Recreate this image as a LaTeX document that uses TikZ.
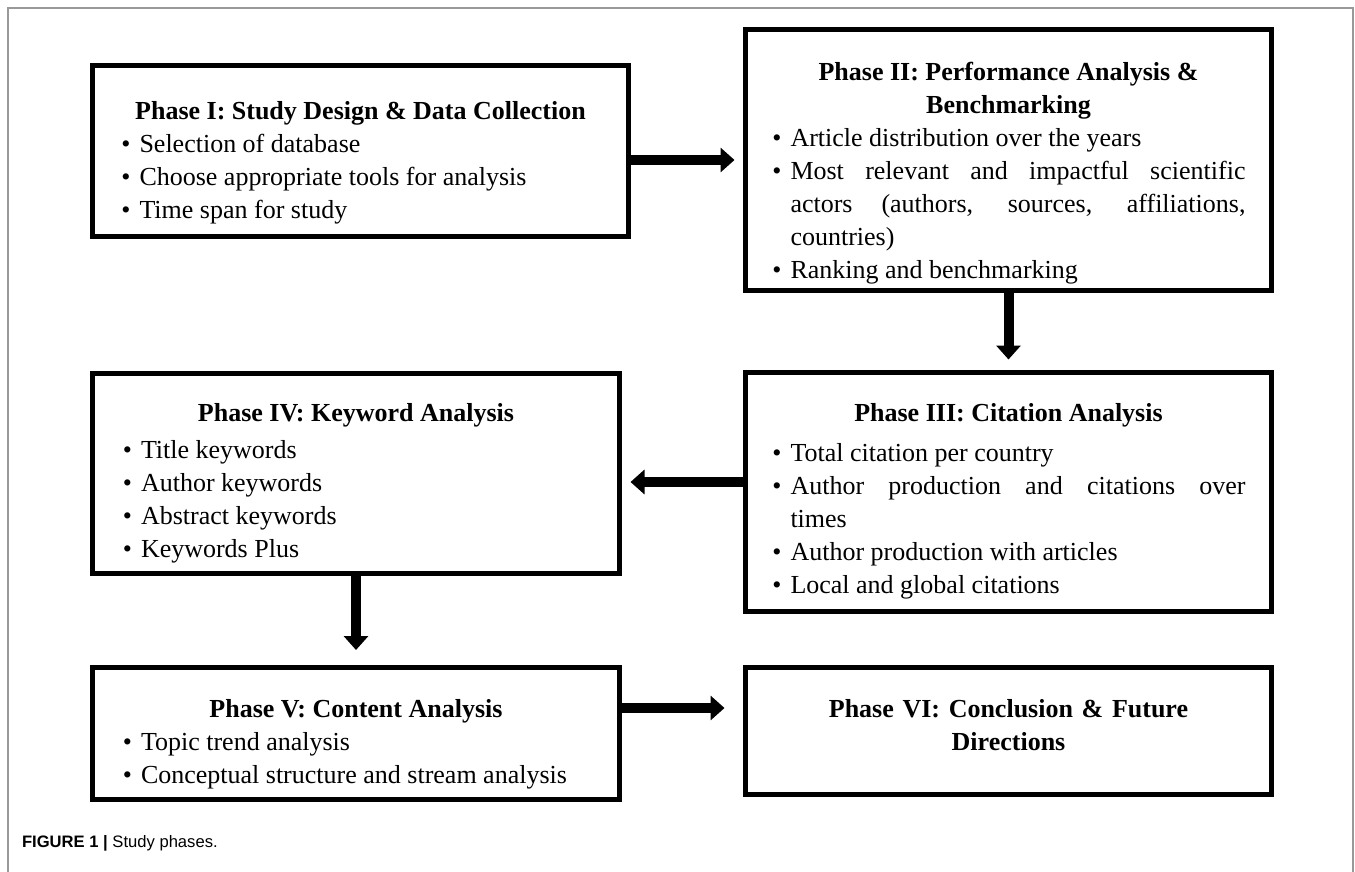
\documentclass[tikz,border=0pt]{standalone}
\usepackage{fontspec}
\setmainfont{Liberation Serif}
\newfontfamily\capfont{Liberation Sans}
\usepackage{enumitem}
\setlist[itemize]{label=\textbullet,leftmargin=9.5pt,labelsep=4.5pt,itemsep=0pt,parsep=0pt,topsep=0pt,partopsep=0pt}
\usetikzlibrary{arrows.meta,positioning,calc}

\begin{document}
\begin{tikzpicture}[x=0.5pt,y=-0.5pt,
        box/.style={draw,rectangle,line width=2.5pt,inner sep=0pt,align=justify,font=\fontsize{13}{16.5}\selectfont},
        flow/.style={line width=5pt,-{Triangle[length=7pt,width=12pt]}}]
   \useasboundingbox (0,0) rectangle (1355,872);
   \draw[gray!80,line width=0.8pt] (8,872) -- (8,8) -- (1353,8) -- (1353,872);
   % phase boxes
   \node (P1) [box,minimum width=268pt,minimum height=85.5pt,text width=240pt] at (360.5,151)
      {{\centering\bfseries\rule{0pt}{21pt}Phase I: Study Design \& Data Collection\par}
       \begin{itemize}
       \item Selection of database
       \item Choose appropriate tools for analysis
       \item Time span for study
       \end{itemize}};
   \node (P2) [box,minimum width=263pt,minimum height=130.5pt,text width=237pt] at (1008.5,160)
      {{\centering\bfseries\rule{0pt}{22.5pt}Phase II: Performance Analysis \&\\ Benchmarking\par}
       \begin{itemize}
       \item Article distribution over the years
       \item Most relevant and impactful scientific\linebreak actors (authors, sources, affiliations,\linebreak countries)
       \item Ranking and benchmarking
       \end{itemize}};
   \node (P3) [box,minimum width=263pt,minimum height=119.5pt,text width=237pt] at (1008.5,492)
      {{\centering\bfseries\rule{0pt}{18.5pt}Phase III: Citation Analysis\par}
       \vspace{3.5pt}
       \begin{itemize}
       \item Total citation per country
       \item Author production and citations over\linebreak times
       \item Author production with articles
       \item Local and global citations
       \end{itemize}};
   \node (P4) [box,minimum width=263.5pt,minimum height=100pt,text width=234pt] at (356,473.5)
      {{\centering\bfseries\rule{0pt}{19pt}Phase IV: Keyword Analysis\par}
       \vspace{2pt}
       \begin{itemize}
       \item Title keywords
       \item Author keywords
       \item Abstract keywords
       \item Keywords Plus
       \end{itemize}};
   \node (P5) [box,minimum width=263.5pt,minimum height=66pt,text width=234pt] at (356,733.5)
      {{\centering\bfseries\rule{0pt}{20pt}Phase V: Content Analysis\par}
       \begin{itemize}
       \item Topic trend analysis
       \item Conceptual structure and stream analysis
       \end{itemize}};
   \node (P6) [box,minimum width=263pt,minimum height=63.5pt,text width=245pt,align=center,font=\fontsize{13}{16.5}\selectfont\bfseries] at (1008.5,731)
      {Phase VI: Conclusion \& Future\\ Directions\rule[-6pt]{0pt}{6pt}};
   % arrows
   \draw[flow,shorten >=4.25pt] (P1.east |- P2.west) -- (P2.west);
   \draw[flow,shorten >=5.25pt] (P2.south) -- (P3.north);
   \draw[flow,shorten >=4.25pt] (P3.west |- 0,482) -- (P4.east |- 0,482);
   \draw[flow,shorten >=7.5pt] (P4.south) -- (P5.north);
   \draw[flow,shorten >=9.25pt] (P5.east |- 0,708) -- (P6.west |- 0,708);
   % caption
   \node (cap) [anchor=west,font=\capfont\fontsize{8.3}{10}\selectfont] at (15,843)
      {\textbf{FIGURE 1 |} Study phases.};
\end{tikzpicture}
\end{document}
